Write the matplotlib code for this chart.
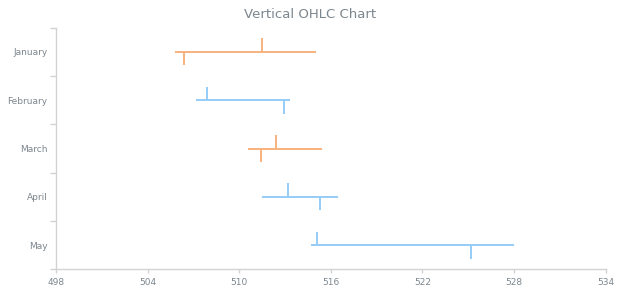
import matplotlib
matplotlib.use('Agg')
import matplotlib.pyplot as plt
import numpy as np

# datos
meses = ['January', 'February', 'March', 'April', 'May']
apertura = [511.5, 507.9, 512.4, 513.2, 515.1]
maximo = [515.0, 513.3, 515.4, 516.5, 528.0]
minimo = [505.8, 507.2, 510.6, 511.5, 514.7]
cierre = [506.4, 512.9, 511.4, 515.3, 525.2]
ticks_x = [498, 504, 510, 516, 522, 528, 534]

color_sube = '#95ccf6'
color_baja = '#f7b27e'
gris = '#7c868e'
gris_eje = '#d2d2d2'

fig = plt.figure(figsize=(6.2, 3.0), dpi=100)
ax = fig.add_axes([0.0903, 0.102, 0.977 - 0.0903, 0.908 - 0.102])

largo = 0.28
for i in range(len(meses)):
    c = color_sube if cierre[i] >= apertura[i] else color_baja
    ax.plot([minimo[i], maximo[i]], [i, i], color=c, lw=1.4, solid_capstyle='butt')
    ax.plot([apertura[i], apertura[i]], [i, i - largo], color=c, lw=1.4, solid_capstyle='butt')
    ax.plot([cierre[i], cierre[i]], [i, i + largo], color=c, lw=1.4, solid_capstyle='butt')

ax.set_xlim(498, 534)
ax.set_ylim(len(meses) - 0.5, -0.5)
ax.set_xticks(ticks_x)
ax.set_xticklabels([str(t) for t in ticks_x])
ax.set_yticks(np.arange(len(meses)))
ax.set_yticklabels(meses)
ax.set_yticks(np.arange(len(meses) + 1) - 0.5, minor=True)

for s in ['top', 'right']:
    ax.spines[s].set_visible(False)
for s in ['left', 'bottom']:
    ax.spines[s].set_color(gris_eje)
    ax.spines[s].set_linewidth(1)

ax.tick_params(axis='y', which='major', length=0, pad=6, labelsize=6.5, labelcolor=gris)
ax.tick_params(axis='y', which='minor', length=4, color=gris_eje, width=1)
ax.tick_params(axis='x', length=3, color=gris_eje, width=1, pad=3, labelsize=6.5, labelcolor=gris)

fig.text(0.5, 0.952, 'Vertical OHLC Chart', ha='center', va='center', fontsize=9.5, color=gris)

fig.savefig('out.png', dpi=100)
